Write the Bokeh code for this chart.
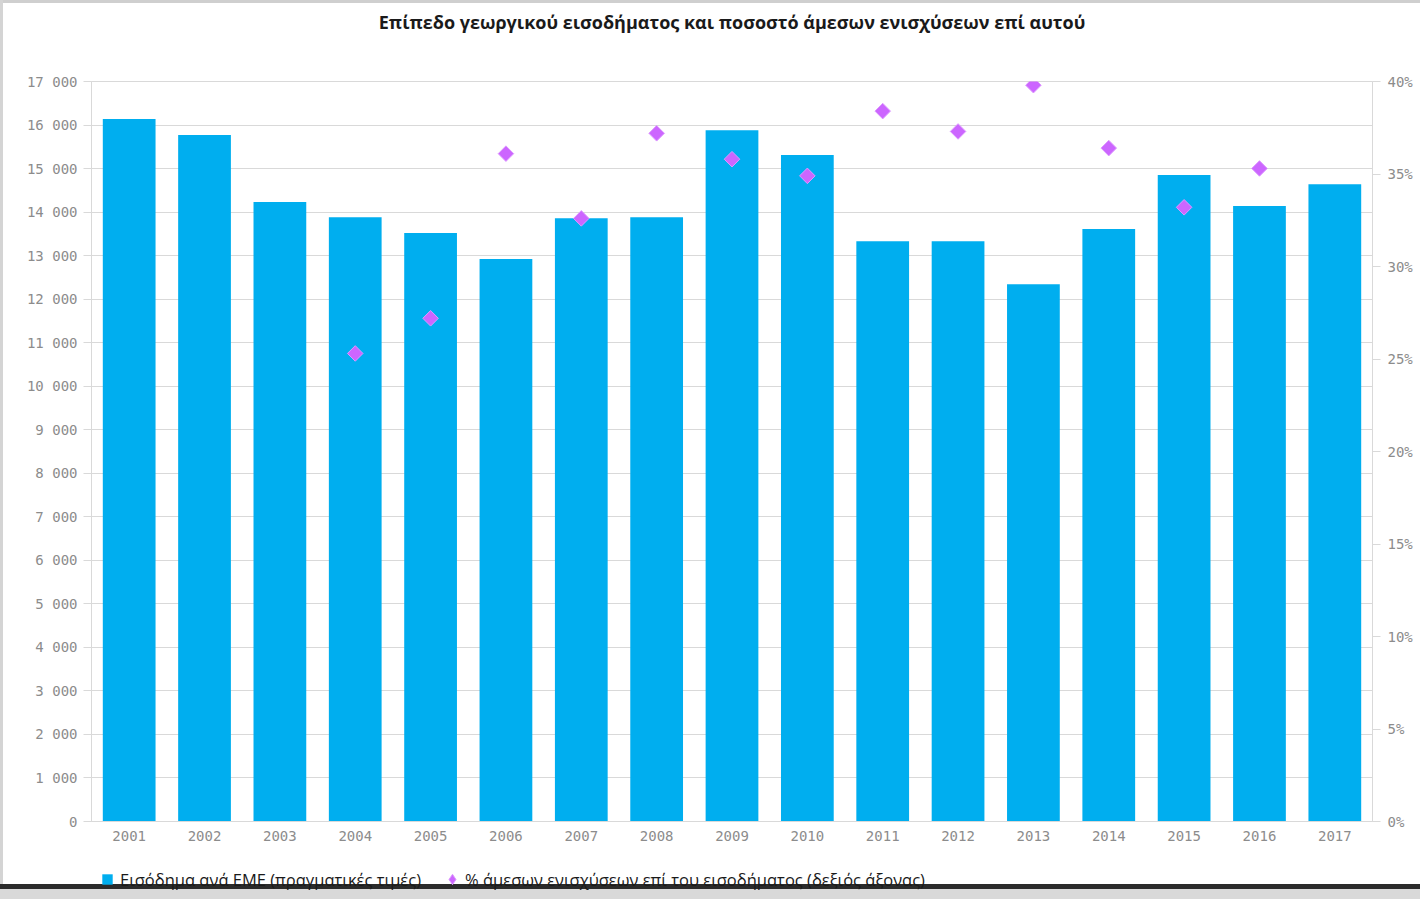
import math
from bokeh.plotting import figure
from bokeh.layouts import column
from bokeh.models import (ColumnDataSource, FactorRange, Range1d, LinearAxis,
                          FixedTicker, Legend, LegendItem, Title)
from bokeh.embed import file_html
from bokeh.resources import INLINE

years = [str(y) for y in range(2001, 2018)]
income = [16140, 15770, 14230, 13880, 13520, 12920, 13860, 13880, 15880,
          15310, 13330, 13330, 12340, 13610, 14850, 14140, 14640]
pct = [math.nan, math.nan, math.nan, 25.3, 27.2, 36.1, 32.6, 37.2, 35.8,
       34.9, 38.4, 37.3, 39.8, 36.4, 33.2, 35.3, math.nan]

left_ticks = list(range(0, 17001, 1000))
left_labels = ["0", "1 000", "2 000", "3 000", "4 000", "5 000", "6 000", "7 000",
               "8 000", "9 000", "10 000", "11 000", "12 000", "13 000", "14 000",
               "15 000", "16 000", "17 000"]
right_ticks = [0, 5, 10, 15, 20, 25, 30, 35, 40]
right_labels = ["0%", "5%", "10%", "15%", "20%", "25%", "30%", "35%", "40%"]

title_text = "Επίπεδο γεωργικού εισοδήματος και ποσοστό άμεσων ενισχύσεων επί αυτού"
bar_label = "Εισόδημα ανά ΕΜΕ (πραγματικές τιμές)"
pct_label = "% άμεσων ενισχύσεων επί του εισοδήματος (δεξιός άξονας)"

BAR_COLOR = "#00aeef"
PT_FILL = "#cc66ff"
PT_LINE = "#dd99ff"

src = ColumnDataSource(dict(year=years, income=income, pct=pct))
x_range = FactorRange(factors=years, range_padding=0)

p = figure(width=1420, height=855, x_range=x_range,
           y_range=Range1d(0, 17000), output_backend="svg", toolbar_location=None)
p.min_border_left = 91
p.min_border_right = 48
p.min_border_top = 81
p.min_border_bottom = 34
p.border_fill_color = None
p.background_fill_color = "white"
p.outline_line_color = "#d9d9d9"
p.styles = {
    "background": "linear-gradient(#d4d4d4,#d4d4d4) 0 0 / 3px 100% no-repeat, "
                  "linear-gradient(to bottom, #cfcfcf 0px, #cfcfcf 3px, #ffffff 3px)"
}

spacer = Title(text=" ", text_font_size="36px", standoff=0)
p.add_layout(spacer, "above")
ttl = Title(text=title_text, align="center", text_font="Open Sans",
            text_font_style="bold", text_font_size="18px", text_color="#1a1a1a")
p.add_layout(ttl, "above")

p.extra_y_ranges = {"pct": Range1d(0, 40)}

bars = p.vbar(x="year", top="income", width=0.7, source=src,
              fill_color=BAR_COLOR, line_color=None)
pts = p.scatter(x="year", y="pct", source=src, y_range_name="pct", marker="square",
                angle=math.pi / 4, size=11, fill_color=PT_FILL,
                line_color=PT_LINE, line_width=1)

ya = p.yaxis[0]
ya.ticker = FixedTicker(ticks=left_ticks)
ya.major_label_overrides = {t: l for t, l in zip(left_ticks, left_labels)}
ya.minor_tick_line_color = None
ya.major_tick_out = 8
ya.major_tick_in = 0
ya.major_tick_line_color = "#d9d9d9"
ya.axis_line_color = "#d9d9d9"
ya.major_label_standoff = 6

ra = LinearAxis(y_range_name="pct", ticker=FixedTicker(ticks=right_ticks))
ra.major_label_overrides = {t: l for t, l in zip(right_ticks, right_labels)}
ra.minor_tick_line_color = None
ra.major_tick_out = 8
ra.major_tick_in = 0
ra.major_tick_line_color = "#d9d9d9"
ra.axis_line_color = "#d9d9d9"
ra.major_label_standoff = 7
p.add_layout(ra, "right")

xa = p.xaxis[0]
xa.major_tick_line_color = None
xa.axis_line_color = "#d9d9d9"
xa.major_label_standoff = 3

for ax in (ya, ra, xa):
    ax.major_label_text_font = "DejaVu Sans Mono"
    ax.major_label_text_font_size = "14px"
    ax.major_label_text_color = "#8c8c8c"

p.xgrid.grid_line_color = None
p.ygrid.grid_line_color = "#d9d9d9"
p.ygrid.ticker = FixedTicker(ticks=left_ticks)

# legend strip (legend-only renderers fall outside this strip's visible range)
p2 = figure(width=1420, height=44, x_range=x_range, y_range=Range1d(0, 1),
            output_backend="svg", toolbar_location=None,
            x_axis_location=None, y_axis_location=None)
p2.grid.visible = False
p2.outline_line_color = None
p2.min_border = 0
p2.border_fill_color = None
p2.background_fill_color = None
p2.styles = {
    "background": "linear-gradient(#d4d4d4,#d4d4d4) 0 0 / 3px 29px no-repeat, "
                  "linear-gradient(to bottom, #ffffff 0px, #ffffff 29px, #2b2b2b 29px, "
                  "#2b2b2b 34px, #d9d9d9 34px)"
}
lb = p2.scatter(x="year", y="income", source=src, marker="square", size=10,
                fill_color=BAR_COLOR, line_color=None)
lp = p2.scatter(x="year", y="pct", source=src, marker="diamond",
                size=11, fill_color=PT_FILL, line_color=PT_LINE, line_width=1)

legend = Legend(items=[LegendItem(label=bar_label, renderers=[lb]),
                       LegendItem(label=pct_label, renderers=[lp])],
                location=(3, 7), orientation="horizontal",
                padding=0, margin=0, spacing=18, glyph_width=26, glyph_height=26,
                label_standoff=0, border_line_color=None, background_fill_alpha=0,
                label_text_font="Open Sans", label_text_font_size="16.5px",
                label_text_color="#1a1a1a")
p2.add_layout(legend, "center")

layout = column(p, p2, spacing=0)
open("out.html", "w").write(file_html(layout, INLINE))
